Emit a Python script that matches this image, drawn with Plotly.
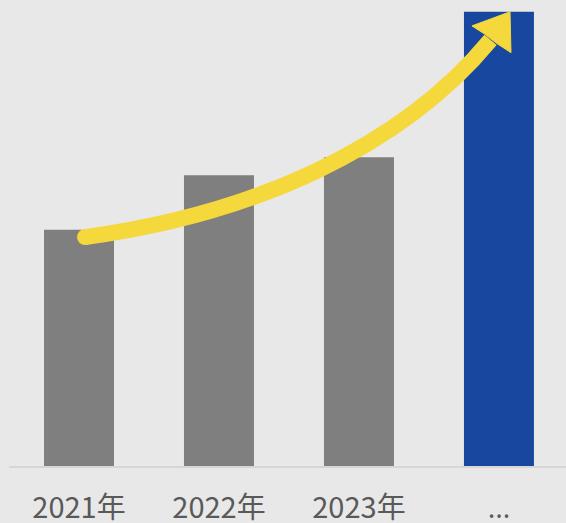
import plotly.graph_objects as go

categories = ["2021年", "2022年", "2023年", "<span style='font-family:Open Sans'>…</span>"]
values = [52, 64, 68, 100]
bar_colors = ["#7f7f7f", "#7f7f7f", "#7f7f7f", "#17479e"]

# decorative arrow, in data coordinates (x = category index, y = value units)
arrow_curve = [(0.043, 50.4), (1.22, 55.3), (2.29, 69.6), (2.94, 93.8)]
arrow_head = [(2.807, 96.9), (3.079, 100.0), (3.086, 91.0), (2.986, 93.0), (2.893, 95.2)]

xs = list(range(len(categories)))
fig = go.Figure(go.Bar(x=xs, y=values, marker=dict(color=bar_colors, line=dict(width=0)),
                       width=0.5, hoverinfo="skip"))

yellow = "#f5d83b"
c = arrow_curve
curve_path = "M {},{} C {},{} {},{} {},{}".format(*[v for p in c for v in p])
head_path = "M " + " L ".join(f"{x},{y}" for x, y in arrow_head) + " Z"
fig.add_shape(type="path", path=curve_path, xref="x", yref="y",
              line=dict(color=yellow, width=16), layer="above")
fig.add_shape(type="path", path=head_path, xref="x", yref="y",
              fillcolor=yellow, line=dict(color=yellow, width=1), layer="above")
# rounded start cap
fig.add_trace(go.Scatter(x=[c[0][0]], y=[c[0][1]], mode="markers",
                         marker=dict(color=yellow, size=16, line=dict(width=0)),
                         hoverinfo="skip", cliponaxis=False))

fig.update_layout(
    width=566, height=523,
    margin=dict(l=9, r=0, t=0, b=57),
    paper_bgcolor="#e8e8e8", plot_bgcolor="#e8e8e8",
    showlegend=False,
    xaxis=dict(range=[-0.5, 3.479], tickvals=xs, ticktext=categories,
               showgrid=False, zeroline=False, showline=True,
               linecolor="#d6d6d6", linewidth=1.5, ticks="",
               ticklabelstandoff=15, automargin=False,
               tickfont=dict(family="Noto Sans CJK SC", size=29, color="#595959")),
    yaxis=dict(range=[0, 102.6], visible=False, showgrid=False, zeroline=False,
               automargin=False),
)
fig.write_html("out.html", config={"displayModeBar": False},
               post_script="document.body.style.margin='0';document.body.style.background='#e8e8e8';")
